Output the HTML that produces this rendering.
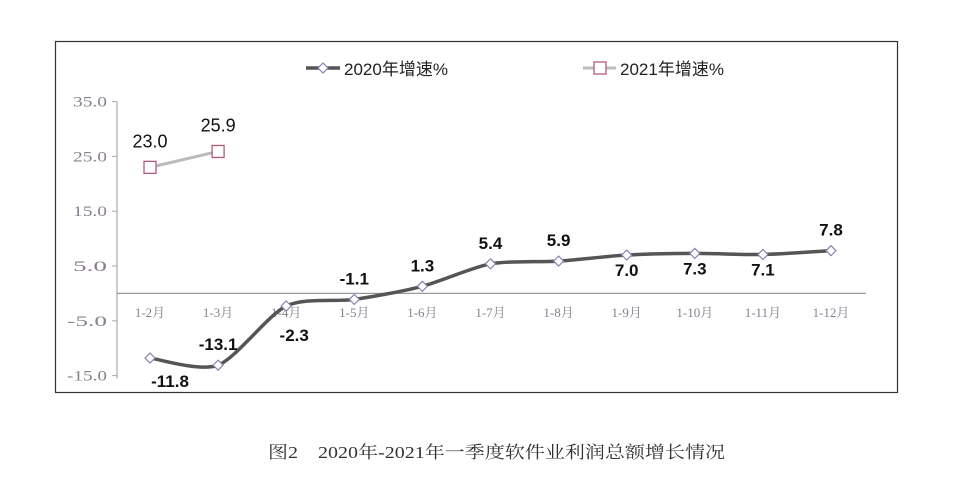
<!DOCTYPE html>
<html><head><meta charset="utf-8"><style>
body{margin:0;background:#fff;width:957px;height:489px;overflow:hidden}
svg{display:block}
</style></head><body>
<svg width="957" height="489" xmlns="http://www.w3.org/2000/svg">
<rect x="55.5" y="41.5" width="842" height="351" fill="none" stroke="#333" stroke-width="1.2"/>
<g id="legend">
<g>
<line x1="306" y1="68" x2="340" y2="68" stroke="#555" stroke-width="3.5"/>
<path d="M323 63 L328 68 L323 73 L318 68 Z" fill="#fff" stroke="#8a82b0" stroke-width="1.2"/>
<text x="344" y="75" font-family="Liberation Sans, Noto Sans CJK SC, sans-serif" font-size="17" fill="#222">2020年增速%</text>
</g>
<g>
<line x1="583" y1="68" x2="616" y2="68" stroke="#bbb" stroke-width="3"/>
<rect x="594" y="62" width="12" height="12" fill="#fff" stroke="#b0597f" stroke-width="1.3"/>
<text x="620" y="75" font-family="Liberation Sans, Noto Sans CJK SC, sans-serif" font-size="17" fill="#222">2021年增速%</text>
</g>
</g>
<g id="axes"></g>
<g id="marks"></g>
<text x="268" y="458" textLength="457" lengthAdjust="spacingAndGlyphs" font-family="Liberation Serif, Noto Serif CJK SC, serif" font-size="17" fill="#333">图2　2020年-2021年一季度软件业利润总额增长情况</text>
</svg>
<script>
const categories=["1-2月","1-3月","1-4月","1-5月","1-6月","1-7月","1-8月","1-9月","1-10月","1-11月","1-12月"];
const series2020=[-11.8,-13.1,-2.3,-1.1,1.3,5.4,5.9,7.0,7.3,7.1,7.8];
const series2021=[23.0,25.9];
const yTicks=[35,25,15,5,-5,-15];
const labelAbove2020=[false,true,false,true,true,true,true,false,false,false,true];
const NS="http://www.w3.org/2000/svg";
const x=i=>150+i*68.1;
const y=v=>293.4-v*5.48;
function mk(t,a,p){const e=document.createElementNS(NS,t);for(const k in a)e.setAttribute(k,a[k]);p.appendChild(e);return e;}
const axes=document.getElementById('axes'),marks=document.getElementById('marks');
const ya=mk('line',{x1:117,y1:y(35),x2:117,y2:y(-15.5),stroke:'#aaa','stroke-width':1.2},axes);


const xa=mk('line',{x1:117,y1:y(0),x2:866,y2:y(0),stroke:'#999','stroke-width':1.2},axes);


yTicks.forEach(v=>{
 mk('line',{x1:112,y1:y(v),x2:117,y2:y(v),stroke:'#aaa'},axes);
 const t=mk('text',{x:v<0?67:73,y:y(v)+5,textLength:v<0?40:34,lengthAdjust:'spacingAndGlyphs','font-family':'Liberation Serif, serif','font-size':15,fill:'#8a7f8f'},axes);
 t.textContent=v.toFixed(1);
 
 
});
categories.forEach((c,i)=>{
 const t=mk('text',{x:x(i),y:317,'text-anchor':'middle','font-family':'Liberation Serif, Noto Serif CJK SC, serif','font-size':13,fill:'#8a7f8f'},axes);
 t.textContent=c;
 
 
});
function smooth(pts){let d=`M${pts[0][0]} ${pts[0][1]}`;for(let i=0;i<pts.length-1;i++){const p0=pts[Math.max(0,i-1)],p1=pts[i],p2=pts[i+1],p3=pts[Math.min(pts.length-1,i+2)];const k=0.13;d+=` C${p1[0]+(p2[0]-p0[0])*k} ${p1[1]+(p2[1]-p0[1])*k} ${p2[0]-(p3[0]-p1[0])*k} ${p2[1]-(p3[1]-p1[1])*k} ${p2[0]} ${p2[1]}`;}return d;}
const p20=series2020.map((v,i)=>[x(i),y(v)]);
const l20=mk('path',{d:smooth(p20),fill:'none',stroke:'#555','stroke-width':3.5},marks);


const p21=series2021.map((v,i)=>[x(i),y(v)]);
const l21=mk('path',{d:`M${p21.map(p=>p.join(' ')).join(' L')}`,fill:'none',stroke:'#bbb','stroke-width':3},marks);


series2020.forEach((v,i)=>{
 const cx=x(i),cy=y(v);
 const m=mk('path',{d:`M${cx} ${cy-5} L${cx+5} ${cy} L${cx} ${cy+5} L${cx-5} ${cy} Z`,fill:'#fff',stroke:'#8a82b0','stroke-width':1.2},marks);
 
 
 const up=labelAbove2020[i];
 const t=mk('text',{x:cx+(i===0?20:i===2?8:0),y:up?cy-15:cy+(i===0?29:i===2?35:21),'text-anchor':'middle','font-family':'Liberation Sans, sans-serif','font-size':17,'font-weight':'bold',fill:'#111'},marks);
 t.textContent=v.toFixed(1);
 
 
});
series2021.forEach((v,i)=>{
 const cx=x(i),cy=y(v);
 const m=mk('rect',{x:cx-6,y:cy-6,width:12,height:12,fill:'#fff',stroke:'#b0597f','stroke-width':1.3},marks);
 
 
 const t=mk('text',{x:cx,y:cy-20,'text-anchor':'middle','font-family':'Liberation Sans, sans-serif','font-size':18,fill:'#111'},marks);
 t.textContent=v.toFixed(1);
 
 
});
</script>
</body></html>
